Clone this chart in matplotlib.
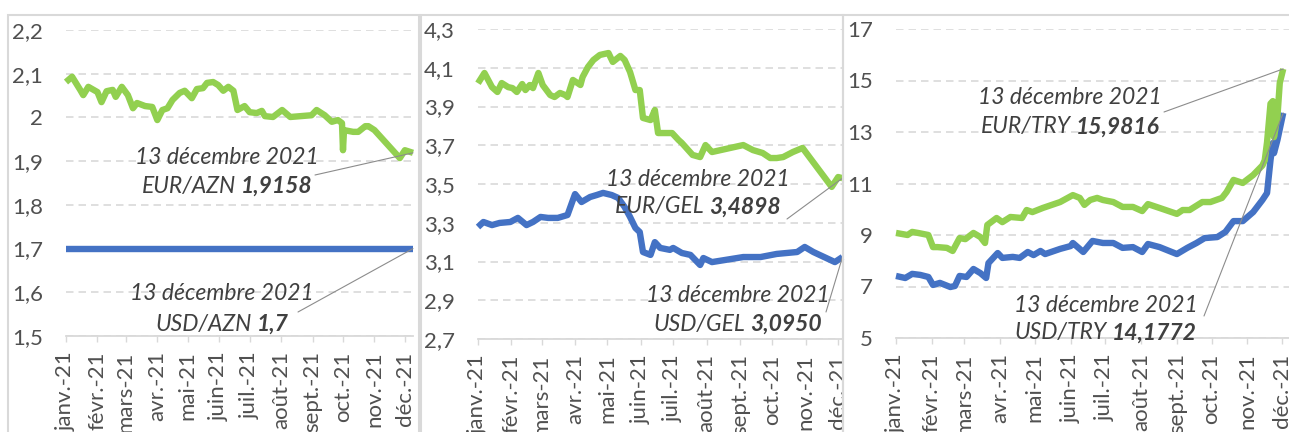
import pandas as pd
import matplotlib.pyplot as plt
from matplotlib.patches import Rectangle

# --------------------------------------------------------------
# Data (day = days since 1 Jan 2021)
# --------------------------------------------------------------
months = ["janv.-21", "févr.-21", "mars-21", "avr.-21", "mai-21", "juin-21",
          "juil.-21", "août-21", "sept.-21", "oct.-21", "nov.-21", "déc.-21"]

azn_eur_day = [0, 6, 14, 17, 22, 31, 35, 40, 46, 49, 55, 61, 66, 70, 78, 85, 90, 95, 100, 105,
               112, 117, 124, 129, 135, 139, 145, 150, 155, 160, 165, 169, 176, 181, 188, 193, 196,
               204, 213, 221, 242, 247, 255, 262, 268, 272, 273, 274, 283, 288, 295, 298, 304,
               329, 334, 342]
azn_eur = [2.081, 2.093, 2.063, 2.051, 2.07, 2.058, 2.035, 2.06, 2.063, 2.047, 2.07, 2.051,
           2.021, 2.033, 2.026, 2.024, 1.994, 2.017, 2.021, 2.04, 2.056, 2.061, 2.044, 2.065,
           2.067, 2.079, 2.081, 2.074, 2.061, 2.07, 2.061, 2.017, 2.026, 2.012, 2.01, 2.015,
           2.003, 2.001, 2.017, 2.001, 2.005, 2.017, 2.005, 1.99, 1.994, 1.987, 1.925, 1.971,
           1.967, 1.967, 1.98, 1.98, 1.971, 1.907, 1.925, 1.919]
azn_usd_day = [0, 342]
azn_usd = [1.7, 1.7]

gel_eur_day = [0, 6, 13, 18, 22, 28, 32, 36, 41, 44, 48, 51, 56, 60, 67, 71, 76, 81, 83, 88,
               95, 97, 102, 107, 113, 121, 125, 132, 136, 141, 146, 150, 153, 160, 164, 167, 172,
               180, 186, 189, 199, 206, 211, 217, 246, 255, 264, 271, 277, 283, 292, 301, 328,
               334, 338]
gel_eur = [4.02, 4.073, 4.0, 3.975, 4.021, 4.0, 3.995, 3.975, 4.016, 3.985, 4.011, 3.995,
           4.073, 4.011, 3.959, 3.949, 3.97, 3.959, 3.949, 4.037, 4.011, 4.052, 4.104, 4.14,
           4.166, 4.176, 4.13, 4.161, 4.14, 4.078, 3.985, 3.985, 3.841, 3.83, 3.882, 3.763,
           3.763, 3.763, 3.727, 3.712, 3.65, 3.639, 3.701, 3.665, 3.701, 3.675, 3.66, 3.634,
           3.634, 3.639, 3.665, 3.686, 3.485, 3.536, 3.53]
gel_usd_day = [0, 5, 13, 20, 30, 37, 45, 51, 58, 65, 74, 83, 87, 90, 96, 104, 110, 116, 124,
               130, 136, 141, 146, 150, 153, 160, 164, 169, 178, 181, 189, 197, 206, 209, 217,
               246, 262, 277, 296, 303, 311, 331, 338]
gel_usd = [3.278, 3.304, 3.288, 3.299, 3.304, 3.325, 3.288, 3.304, 3.33, 3.325, 3.325, 3.34,
           3.402, 3.448, 3.407, 3.433, 3.443, 3.454, 3.443, 3.428, 3.381, 3.33, 3.273, 3.252,
           3.149, 3.134, 3.2, 3.17, 3.16, 3.17, 3.144, 3.134, 3.082, 3.118, 3.097, 3.123,
           3.123, 3.139, 3.149, 3.175, 3.149, 3.097, 3.123]

try_eur_day = [0, 10, 14, 19, 28, 32, 36, 44, 49, 55, 60, 67, 73, 77, 79, 87, 92, 99, 109, 113,
               118, 127, 142, 153, 159, 163, 168, 174, 179, 188, 196, 205, 213, 218, 228, 243,
               248, 254, 265, 272, 282, 286, 292, 300, 309, 317, 319, 321, 324, 326, 327, 330,
               332, 335]
try_eur = [9.08, 9.0, 9.12, 9.08, 9.0, 8.53, 8.53, 8.5, 8.38, 8.88, 8.84, 9.08, 8.92, 8.69,
           9.39, 9.66, 9.5, 9.7, 9.66, 9.97, 9.89, 10.05, 10.28, 10.55, 10.44, 10.17, 10.36,
           10.44, 10.36, 10.28, 10.09, 10.09, 9.93, 10.2, 10.05, 9.82, 9.97, 9.97, 10.28, 10.28,
           10.44, 10.67, 11.14, 11.02, 11.33, 11.7, 11.9, 12.6, 14.1, 14.2, 12.8, 13.6, 14.9,
           15.45]
try_usd_day = [0, 8, 14, 21, 28, 32, 38, 47, 51, 55, 61, 67, 73, 78, 80, 88, 92, 101, 107, 114,
               119, 125, 129, 142, 151, 153, 162, 170, 179, 188, 196, 205, 213, 218, 228, 243,
               252, 260, 267, 278, 285, 292, 300, 309, 317, 321, 324, 326, 327, 330, 335]
try_usd = [7.41, 7.33, 7.49, 7.45, 7.37, 7.06, 7.14, 6.98, 7.02, 7.41, 7.37, 7.68, 7.52, 7.33,
           7.91, 8.3, 8.11, 8.15, 8.11, 8.34, 8.22, 8.38, 8.26, 8.46, 8.57, 8.69, 8.34, 8.77,
           8.69, 8.69, 8.5, 8.53, 8.34, 8.65, 8.53, 8.26, 8.5, 8.69, 8.88, 8.92, 9.12, 9.54,
           9.54, 9.89, 10.36, 10.63, 11.91, 12.57, 12.18, 12.69, 13.74]

note_pairs = [["EUR/AZN", "USD/AZN"], ["EUR/GEL", "USD/GEL"], ["EUR/TRY", "USD/TRY"]]
note_values = [["1,9158", "1,7"], ["3,4898", "3,0950"], ["15,9816", "14,1772"]]
note_date = "13 décembre 2021"

# --------------------------------------------------------------
# Style
# --------------------------------------------------------------
plt.rcParams["font.family"] = ["Lato", "DejaVu Sans"]
GREEN, BLUE = "#92D050", "#4472C4"
GRID, TICK_TXT, NOTE_TXT = "#d9d9d9", "#505050", "#404040"
W, H = 1289, 432
TICK_FS, NOTE_FS = 16, 16.5

fig = plt.figure(figsize=(W / 100, H / 100), dpi=100)
start = pd.Timestamp("2021-01-01")
month_starts = pd.date_range(start, periods=12, freq="MS")


def to_dates(days):
    return start + pd.to_timedelta(days, unit="D")


def fx(x):
    return x / W


def fy(y):
    return 1 - y / H


# chart-area frames (they run past the bottom of the picture)
for x0, x1 in [(8, 419), (421, 843), (843, 1300)]:
    fig.patches.append(Rectangle((fx(x0), -0.2), fx(x1 - x0), fy(15) + 0.2, fill=False,
                                 ec=GRID, lw=1.5, transform=fig.transFigure, figure=fig))

# pixel layout: axes box, end day, y range/step, note placements
panels = [
    dict(box=(66, 30, 413, 336), end=342, ylim=(1.5, 2.2), step=0.1,
         eur=(azn_eur_day, azn_eur), usd=(azn_usd_day, azn_usd),
         notes=[(227, 156, 184, 315, 175), (222, 292, 322, 298, 312)]),
    dict(box=(478, 29, 843, 339), end=338.5, ylim=(2.7, 4.3), step=0.2,
         eur=(gel_eur_day, gel_eur), usd=(gel_usd_day, gel_usd),
         notes=[(698, 177, 205, 787, 219), (738, 293, 322, 826, 312)]),
    dict(box=(896, 29, 1289, 338), end=340, ylim=(5, 17), step=2,
         eur=(try_eur_day, try_eur), usd=(try_usd_day, try_usd),
         notes=[(1070, 95, 125, 1164, 112), (1106, 303, 331, 1204, 316)]),
]


def note(ax, cx, y1, y2, lx, ly, pair, value, xy):
    fig.text(fx(cx), fy(y1), note_date, ha="center", va="center_baseline",
             style="italic", fontsize=NOTE_FS, color=NOTE_TXT)
    t1 = fig.text(0, fy(y2), pair, ha="left", va="center_baseline",
                  style="italic", fontsize=NOTE_FS, color=NOTE_TXT)
    t2 = fig.text(0, fy(y2), value, ha="left", va="center_baseline",
                  style="italic", weight="bold", fontsize=NOTE_FS, color=NOTE_TXT)
    r = fig.canvas.get_renderer()
    w1 = t1.get_window_extent(r).width
    w2 = t2.get_window_extent(r).width
    gap = 5
    x0 = cx - (w1 + gap + w2) / 2
    t1.set_x(fx(x0))
    t2.set_x(fx(x0 + w1 + gap))
    ax.annotate("", xy=xy, xycoords="data", xytext=(fx(lx), fy(ly)),
                textcoords="figure fraction", annotation_clip=False,
                arrowprops=dict(arrowstyle="-", color="#8c8c8c", lw=0.8,
                                shrinkA=0, shrinkB=0))


for i, p in enumerate(panels):
    x0, y0, x1, y1 = p["box"]
    ax = fig.add_axes([fx(x0), fy(y1), fx(x1 - x0), (y1 - y0) / H])

    for (days, vals), color in [(p["usd"], BLUE), (p["eur"], GREEN)]:
        ax.plot(to_dates(days), vals, color=color, lw=4.6, solid_joinstyle="round",
                solid_capstyle="butt", clip_on=False)

    lo, hi = p["ylim"]
    n = int(round((hi - lo) / p["step"]))
    yt = [round(lo + k * p["step"], 1) for k in range(n + 1)]
    ax.set_ylim(lo, hi)
    ax.set_yticks(yt)
    ax.set_yticklabels([f"{v:g}".replace(".", ",") for v in yt])
    ax.set_xlim(start, to_dates(p["end"]))
    ax.set_xticks(month_starts)
    ax.set_xticklabels(months, rotation=90)

    for s in ["top", "right", "left"]:
        ax.spines[s].set_visible(False)
    ax.spines["bottom"].set_color(GRID)
    ax.spines["bottom"].set_linewidth(1.3)
    ax.yaxis.grid(True, color=GRID, lw=1.2, linestyle=(0, (4.5, 3)))
    ax.set_axisbelow(True)
    ax.tick_params(axis="y", length=0, pad=16.5, labelsize=TICK_FS, labelcolor=TICK_TXT)
    ax.tick_params(axis="x", length=4, width=1, color=GRID, pad=7,
                   labelsize=TICK_FS, labelcolor=TICK_TXT)

    eur_end = (to_dates(p["eur"][0][-1]), p["eur"][1][-1])
    usd_end = (to_dates(p["usd"][0][-1]), p["usd"][1][-1])
    for (cx, ya, yb, lx, ly), pair, value, xy in zip(p["notes"], note_pairs[i],
                                                    note_values[i], [eur_end, usd_end]):
        note(ax, cx, ya, yb, lx, ly, pair, value, xy)

fig.savefig("out.png", dpi=100)
